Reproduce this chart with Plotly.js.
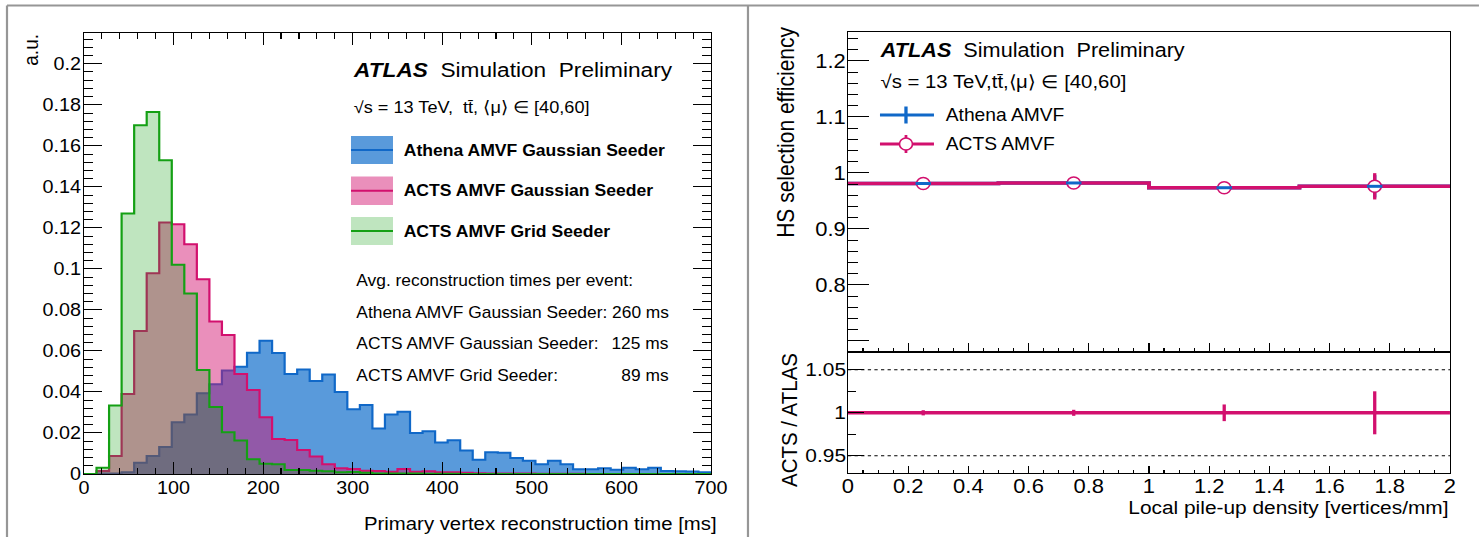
<!DOCTYPE html>
<html>
<head>
<meta charset="utf-8">
<script src="https://cdn.plot.ly/plotly-3.0.1.min.js"></script>
<style>
html,body{margin:0;padding:0;background:#fff;overflow:hidden}
#plot{width:1345px;height:537px;transform:scaleX(1.0996);transform-origin:0 0}
</style>
</head>
<body>
<div id="plot"></div>
<script>
// ---------------- data: left panel (reconstruction time histograms, 14 ms bins) ----------------
const timeBinWidth = 14;
const athenaGauss = [0,0.0002,0.0003,0.0008,0.0055,0.0088,0.0132,0.0252,0.029,0.0394,
  0.0438,0.0505,0.0523,0.0591,0.065,0.059,0.0487,0.051,0.0454,0.0485,
  0.040,0.0316,0.0337,0.0222,0.029,0.0304,0.0200,0.0208,0.0153,0.0165,
  0.0114,0.0069,0.0106,0.0104,0.0078,0.0065,0.0047,0.0064,0.0047,0.0023,
  0.0023,0.0028,0.0021,0.0030,0.0023,0.0030,0.0015,0.0013,0.0012,0.0008];
const actsGauss = [0,0.0015,0.0088,0.039,0.0697,0.0979,0.1226,0.1218,0.112,0.095,
  0.0743,0.0678,0.0487,0.041,0.0277,0.0171,0.0166,0.0117,0.0085,0.0047,
  0.0028,0.0024,0.0016,0.0015,0.0011,0.0024,0.0011,0.0013,0.0008,0.0008,
  0.0006,0.0004,0.0003,0.0002,0.0002,0.0002,0.0001,0.0001,0.0001,0.0001,
  0,0,0,0,0,0,0,0,0,0];
const actsGrid = [0,0.003,0.0334,0.127,0.170,0.1765,0.153,0.102,0.088,0.0507,
  0.0327,0.0204,0.0163,0.0072,0.0050,0.0047,0.0020,0.0020,0.0016,0.0013,
  0.0008,0.0010,0.0006,0.0003,0.0002,0.0002,0.0002,0.0001,0.0001,0.0001,
  0,0,0,0,0,0,0,0,0,0,0,0,0,0,0,0,0,0,0,0];
const timeEdges = Array.from({length: athenaGauss.length + 1}, (_, i) => i * timeBinWidth);

// ---------------- data: right panel (HS selection efficiency) ----------------
const densityEdges = [0, 0.5, 1, 1.5, 2];
const densityCenters = [0.25, 0.75, 1.25, 1.75];
const athenaEff = [0.981, 0.982, 0.9735, 0.976];
const athenaEffErr = [0.0015, 0.002, 0.004, 0.02];
const actsEff = [0.981, 0.982, 0.9735, 0.976];
const actsEffErr = [0.0015, 0.002, 0.004, 0.0235];
const effRatio = [1.0, 1.0, 1.0, 1.0];
const effRatioErr = [0.003, 0.0035, 0.0097, 0.025];

// ---------------- styling ----------------
const W = 1479, H = 537;
const FONT = 'Liberation Sans, Arial, Helvetica, sans-serif';
const blueLine = 'rgb(16,104,200)', blueFill = 'rgba(0,100,200,0.65)';
const pinkLine = 'rgb(210,16,110)', pinkFill = 'rgba(210,16,110,0.47)';
const greenLine = 'rgb(20,160,20)', greenFill = 'rgba(20,160,20,0.27)';
const fx = x => x / W, fy = y => 1 - y / H;
const stepY = v => v.concat([v[v.length - 1]]);

const traces = [
  {x: timeEdges, y: stepY(athenaGauss), type: 'scatter', mode: 'lines', line: {shape: 'hv', color: blueLine, width: 2},
   fill: 'tozeroy', fillcolor: blueFill, xaxis: 'x', yaxis: 'y', hoverinfo: 'skip'},
  {x: timeEdges, y: stepY(actsGauss), type: 'scatter', mode: 'lines', line: {shape: 'hv', color: pinkLine, width: 2},
   fill: 'tozeroy', fillcolor: pinkFill, xaxis: 'x', yaxis: 'y', hoverinfo: 'skip'},
  {x: timeEdges, y: stepY(actsGrid), type: 'scatter', mode: 'lines', line: {shape: 'hv', color: greenLine, width: 2},
   fill: 'tozeroy', fillcolor: greenFill, xaxis: 'x', yaxis: 'y', hoverinfo: 'skip'},
  // right upper
  {x: densityEdges, y: stepY(athenaEff), type: 'scatter', mode: 'lines', line: {shape: 'hv', color: blueLine, width: 3.5},
   xaxis: 'x2', yaxis: 'y2', hoverinfo: 'skip'},
  {x: densityCenters, y: athenaEff, type: 'scatter', mode: 'markers', marker: {size: 1, color: 'rgba(0,0,0,0)'},
   error_y: {type: 'data', array: athenaEffErr, color: blueLine, thickness: 3, width: 0}, xaxis: 'x2', yaxis: 'y2', hoverinfo: 'skip'},
  {x: densityEdges, y: stepY(actsEff), type: 'scatter', mode: 'lines', line: {shape: 'hv', color: pinkLine, width: 3.5},
   xaxis: 'x2', yaxis: 'y2', hoverinfo: 'skip'},
  {x: densityCenters, y: actsEff, type: 'scatter', mode: 'markers',
   marker: {symbol: 'circle', size: 12, color: 'white', line: {color: pinkLine, width: 1.5}},
   error_y: {type: 'data', array: actsEffErr, color: pinkLine, thickness: 3, width: 0}, xaxis: 'x2', yaxis: 'y2', hoverinfo: 'skip'},
  {x: densityCenters, y: athenaEff, type: 'scatter', mode: 'markers',
   marker: {symbol: 'line-ew', size: 10, line: {color: blueLine, width: 3}}, xaxis: 'x2', yaxis: 'y2', hoverinfo: 'skip'},
  // right lower ratio
  {x: densityEdges, y: stepY(effRatio), type: 'scatter', mode: 'lines', line: {shape: 'hv', color: pinkLine, width: 3.5},
   xaxis: 'x3', yaxis: 'y3', hoverinfo: 'skip'},
  {x: densityCenters, y: effRatio, type: 'scatter', mode: 'markers', marker: {size: 1, color: 'rgba(0,0,0,0)'},
   error_y: {type: 'data', array: effRatioErr, color: pinkLine, thickness: 3, width: 0}, xaxis: 'x3', yaxis: 'y3', hoverinfo: 'skip'}
];

const axBase = {showgrid: false, zeroline: false, showline: true, linecolor: 'black', linewidth: 1,
  ticks: 'inside', tickcolor: 'black', tickwidth: 1, tickfont: {family: FONT, size: 18, color: 'black'}, fixedrange: true};

const layout = {
  width: 1345, height: H, margin: {l: 0, r: 0, t: 0, b: 0}, paper_bgcolor: 'white', plot_bgcolor: 'white',
  showlegend: false, font: {family: FONT, color: 'black'},
  xaxis: Object.assign({}, axBase, {domain: [fx(84), fx(711)], range: [0, 700], tick0: 0, dtick: 100, ticklen: 12,
    ticklabelstandoff: -3,
    mirror: 'allticks', anchor: 'y', minor: {ticks: 'inside', dtick: 20, ticklen: 6, tickcolor: 'black'}}),
  yaxis: Object.assign({}, axBase, {domain: [fy(474), fy(33)], range: [0, 0.215], tick0: 0, dtick: 0.02, ticklen: 16.5,
    ticklabelstandoff: -2,
    mirror: 'allticks', anchor: 'x', minor: {ticks: 'inside', dtick: 0.004, ticklen: 8, tickcolor: 'black'}}),
  xaxis2: Object.assign({}, axBase, {domain: [fx(848), fx(1450)], range: [0, 2], tick0: 0, dtick: 0.2, ticklen: 9,
    showticklabels: false, mirror: true, anchor: 'y2', minor: {ticks: 'inside', dtick: 0.05, ticklen: 4.5, tickcolor: 'black'}}),
  yaxis2: Object.assign({}, axBase, {domain: [fy(352), fy(32)], range: [0.68, 1.2517], tickmode: 'array',
    tickvals: [0.7, 0.8, 0.9, 1.0, 1.1, 1.2], ticktext: ['', '0.8', '0.9', '1', '1.1', '1.2'], ticklen: 19,
    tickfont: {family: FONT, size: 20, color: 'black'}, ticklabelstandoff: -3,
    mirror: true, anchor: 'x2', minor: {ticks: 'inside', tick0: 0.7, dtick: 0.02, ticklen: 9, tickcolor: 'black'}}),
  xaxis3: Object.assign({}, axBase, {domain: [fx(848), fx(1450)], range: [0, 2], tick0: 0, dtick: 0.2, ticklen: 7,
    tickfont: {family: FONT, size: 20, color: 'black'}, ticklabelstandoff: -5,
    mirror: true, anchor: 'y3', minor: {ticks: 'inside', dtick: 0.05, ticklen: 3.5, tickcolor: 'black'}}),
  yaxis3: Object.assign({}, axBase, {domain: [fy(473), fy(352)], range: [0.93, 1.0707], tickmode: 'array',
    tickvals: [0.95, 1.0, 1.05], ticktext: ['0.95', '1', '1.05'], ticklen: 14.5,
    tickfont: {family: FONT, size: 19, color: 'black'}, ticklabelstandoff: -3,
    mirror: true, anchor: 'x3', minor: {ticks: 'inside', tick0: 0.95, dtick: 0.025, ticklen: 7, tickcolor: 'black'}}),
  shapes: [],
  annotations: []
};

// page frame lines (gray)
const gray = 'rgb(150,150,150)';
layout.shapes.push({type: 'line', xref: 'paper', yref: 'paper', x0: fx(7), x1: 1, y0: fy(5.5), y1: fy(5.5), line: {color: gray, width: 2}});
layout.shapes.push({type: 'line', xref: 'paper', yref: 'paper', x0: fx(7), x1: fx(7), y0: fy(5.5), y1: 0, line: {color: gray, width: 2}});
layout.shapes.push({type: 'line', xref: 'paper', yref: 'paper', x0: fx(748), x1: fx(748), y0: fy(5.5), y1: 0, line: {color: gray, width: 2}});
// pad separator on the right panel
layout.shapes.push({type: 'line', xref: 'paper', yref: 'paper', x0: fx(848), x1: fx(1450), y0: fy(352), y1: fy(352), line: {color: 'black', width: 2}});

// ratio reference lines
[0.95, 1.05].forEach(v => layout.shapes.push({type: 'line', xref: 'x3', yref: 'y3', x0: 0, x1: 2, y0: v, y1: v,
  line: {color: 'black', width: 1, dash: 'dot'}, layer: 'below'}));

// left legend boxes
const legL = [
  {fill: blueFill, line: blueLine, y0: 136, y1: 164, text: 'Athena AMVF Gaussian Seeder'},
  {fill: pinkFill, line: pinkLine, y0: 176.5, y1: 205, text: 'ACTS AMVF Gaussian Seeder'},
  {fill: greenFill, line: greenLine, y0: 217, y1: 245, text: 'ACTS AMVF Grid Seeder'}
];
legL.forEach(e => {
  layout.shapes.push({type: 'rect', xref: 'paper', yref: 'paper', x0: fx(351), x1: fx(393), y0: fy(e.y1), y1: fy(e.y0),
    fillcolor: e.fill, line: {width: 0}, layer: 'above'});
  const ym = (e.y0 + e.y1) / 2;
  layout.shapes.push({type: 'line', xref: 'paper', yref: 'paper', x0: fx(351), x1: fx(393), y0: fy(ym), y1: fy(ym),
    line: {color: e.line, width: 2}, layer: 'above'});
  layout.annotations.push({xref: 'paper', yref: 'paper', x: fx(401), y: fy(ym), xanchor: 'left', yanchor: 'middle',
    text: '<b>' + e.text + '</b>', showarrow: false, font: {family: FONT, size: 16, color: 'black'}});
});

// right legend symbols
layout.shapes.push({type: 'line', xref: 'paper', yref: 'paper', x0: fx(880), x1: fx(934), y0: fy(115), y1: fy(115), line: {color: blueLine, width: 3}});
layout.shapes.push({type: 'line', xref: 'paper', yref: 'paper', x0: fx(906), x1: fx(906), y0: fy(106.5), y1: fy(123.5), line: {color: blueLine, width: 3}});
layout.shapes.push({type: 'line', xref: 'paper', yref: 'paper', x0: fx(880), x1: fx(934), y0: fy(144), y1: fy(144), line: {color: pinkLine, width: 3}});
layout.shapes.push({type: 'line', xref: 'paper', yref: 'paper', x0: fx(906), x1: fx(906), y0: fy(135), y1: fy(153), line: {color: pinkLine, width: 2.5}});
layout.shapes.push({type: 'circle', xref: 'paper', yref: 'paper', x0: fx(899.5), x1: fx(912.5), y0: fy(150), y1: fy(138),
  fillcolor: 'white', line: {color: pinkLine, width: 1.5}});

function ann(text, x, y, size, xa, ya, extra) {
  layout.annotations.push(Object.assign({xref: 'paper', yref: 'paper', x: fx(x), y: fy(y), xanchor: xa, yanchor: ya,
    text: text, showarrow: false, font: {family: FONT, size: size, color: 'black'}}, extra || {}));
}
const nb = '\u00a0';
// left panel texts
ann('a.u.', 31, 31.5, 19, 'center', 'top', {textangle: -90});
ann('<b><i>ATLAS</i></b>' + nb + nb + 'Simulation' + nb + nb + 'Preliminary', 351, 69, 20.6, 'left', 'middle');
ann('√s = 13 TeV,' + nb + nb + 'tt\u0304, ⟨μ⟩ ∈ [40,60]', 351, 107, 16.5, 'left', 'middle');
ann('Avg. reconstruction times per event:', 354, 280.5, 15.8, 'left', 'middle');
ann('Athena AMVF Gaussian Seeder: 260 ms', 354, 312, 15.8, 'left', 'middle');
ann('ACTS AMVF Gaussian Seeder:', 354, 343, 15.8, 'left', 'middle');
ann('125 ms', 671, 343, 15.8, 'right', 'middle');
ann('ACTS AMVF Grid Seeder:', 354, 375, 15.8, 'left', 'middle');
ann('89 ms', 671, 375, 15.8, 'right', 'middle');
ann('Primary vertex reconstruction time [ms]', 719, 523.5, 18.5, 'right', 'middle');
// right panel texts
ann('HS selection efficiency', 785.5, 25, 21, 'center', 'top', {textangle: -90});
ann('ACTS / ATLAS', 789, 351.5, 20.5, 'center', 'top', {textangle: -90});
ann('<b><i>ATLAS</i></b>' + nb + nb + 'Simulation' + nb + nb + 'Preliminary', 877, 49.7, 19.7, 'left', 'middle');
ann('√s = 13 TeV,tt\u0304,⟨μ⟩ ∈ [40,60]', 877, 81, 18.5, 'left', 'middle');
ann('Athena AMVF', 943.5, 115, 17.5, 'left', 'middle');
ann('ACTS AMVF', 943.5, 144, 17.5, 'left', 'middle');
ann('Local pile-up density [vertices/mm]', 1450, 507, 19, 'right', 'middle');

Plotly.newPlot('plot', traces, layout, {displayModeBar: false, staticPlot: true});
</script>
</body>
</html>
